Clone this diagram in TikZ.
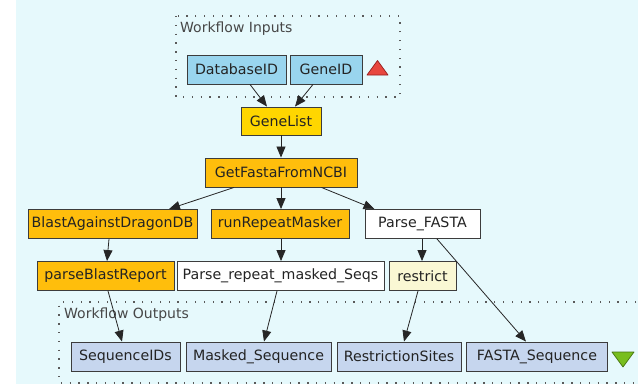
\documentclass[tikz,border=0pt]{standalone}
\usepackage{fontspec}
\setmainfont{DejaVu Sans}
\usetikzlibrary{arrows.meta,calc}
\definecolor{bgc}{RGB}{230,249,252}
\definecolor{inc}{RGB}{153,213,238}
\definecolor{goldc}{RGB}{255,214,0}
\definecolor{orc}{RGB}{255,190,12}
\definecolor{ltyc}{RGB}{250,248,212}
\definecolor{outc}{RGB}{198,214,238}
\definecolor{bordc}{RGB}{60,60,60}
\definecolor{txtc}{RGB}{35,35,35}
\definecolor{dotc}{RGB}{90,90,90}
\definecolor{redc}{RGB}{232,70,62}
\definecolor{redb}{RGB}{150,30,30}
\definecolor{grnc}{RGB}{120,190,30}
\definecolor{grnb}{RGB}{70,115,15}
\tikzset{
  box/.style={draw=bordc, line width=0.9pt, minimum height=29pt, inner sep=0pt,
    text=txtc, font=\fontsize{14.2}{16}\selectfont},
  inbox/.style={box, fill=inc},
  goldbox/.style={box, fill=goldc},
  orbox/.style={box, fill=orc},
  whbox/.style={box, fill=white},
  ltbox/.style={box, fill=ltyc},
  outbox/.style={box, fill=outc},
  conn/.style={draw=black!85, line width=0.8pt, -{Triangle[length=11pt,width=9pt]}},
  dotline/.style={draw=dotc, line width=1.3pt, dash pattern=on 1.3pt off 7.5pt},
  grplabel/.style={anchor=west, inner sep=0pt, text=black!72, font=\fontsize{14}{16}\selectfont}
}
\begin{document}
\begin{tikzpicture}[x=1pt,y=-1pt]
\useasboundingbox (0,0) rectangle (638,384);
\fill[white] (0,0) rectangle (638,384);
\fill[bgc] (15.5,0) rectangle (638,384);
% group frames
\draw[dotline] (176,16) rectangle (400,97);
\draw[dotline] (645,302) -- (59,302) -- (59,383) -- (645,383);
\node[grplabel] (inlbl) at (180,28.5) {Workflow Inputs};
\node[grplabel] (outlbl) at (64,314.5) {Workflow Outputs};
% nodes
\node[inbox, minimum width=99pt] (dbid) at (236.5,69.5) {DatabaseID};
\node[inbox, minimum width=72pt] (geneid) at (326,69.5) {GeneID};
\node[goldbox, minimum width=80pt, minimum height=28pt] (genelist) at (281,121) {GeneList};
\node[orbox, minimum width=152pt] (getfasta) at (281,172.5) {GetFastaFromNCBI};
\node[orbox, minimum width=169pt] (blast) at (112.5,224) {BlastAgainstDragonDB};
\node[orbox, minimum width=138pt] (rrm) at (280,224) {runRepeatMasker};
\node[whbox, minimum width=115pt] (pfasta) at (422.5,224) {Parse\_FASTA};
\node[orbox, minimum width=137pt] (pbr) at (105.5,276) {parseBlastReport};
\node[whbox, minimum width=207pt] (prms) at (280.5,276) {Parse\_repeat\_masked\_Seqs};
\node[ltbox, minimum width=67pt] (restrict) at (422.5,276) {restrict};
\node[outbox, minimum width=109pt] (seqids) at (125.5,356.5) {SequenceIDs};
\node[outbox, minimum width=145pt] (masked) at (258.5,356.5) {Masked\_Sequence};
\node[outbox, minimum width=124pt] (rsites) at (399,356.5) {RestrictionSites};
\node[outbox, minimum width=141pt] (fastaseq) at (537,356.5) {FASTA\_Sequence};
% port triangles
\draw[fill=redc, draw=redb, line width=0.7pt, line join=round] (367,75) -- (388,75) -- (377.5,60.5) -- cycle;
\draw[fill=grnc, draw=grnb, line width=0.7pt, line join=round] (612,352) -- (634,352) -- (623,367) -- cycle;
% connectors
\draw[conn] ([xshift=13.5pt]dbid.south) -- ([xshift=-14pt]genelist.north);
\draw[conn] ([xshift=-13pt]geneid.south) -- ([xshift=14pt]genelist.north);
\draw[conn] (genelist.south) -- (getfasta.north);
\draw[conn] ([xshift=-47pt]getfasta.south) -- ([xshift=56.5pt]blast.north);
\draw[conn] (getfasta.south) -- (getfasta.south |- rrm.north);
\draw[conn] ([xshift=40.5pt]getfasta.south) -- ([xshift=-48pt]pfasta.north);
\draw[conn] ([xshift=-3.5pt]blast.south) -- ([xshift=1.5pt]pbr.north);
\draw[conn] ([xshift=1pt]rrm.south) -- ([xshift=0.5pt]prms.north);
\draw[conn] ([xshift=-0.5pt]pfasta.south) -- ([xshift=-0.5pt]restrict.north);
\draw[conn] ([xshift=14.5pt]pfasta.south) -- ([xshift=-11pt]fastaseq.north);
\draw[conn] ([xshift=2.5pt]pbr.south) -- ([xshift=-3.5pt]seqids.north);
\draw[conn] ([xshift=-3.5pt]prms.south) -- ([xshift=5.5pt]masked.north);
\draw[conn] ([xshift=-4.5pt]restrict.south) -- ([xshift=5pt]rsites.north);
\end{tikzpicture}
\end{document}
